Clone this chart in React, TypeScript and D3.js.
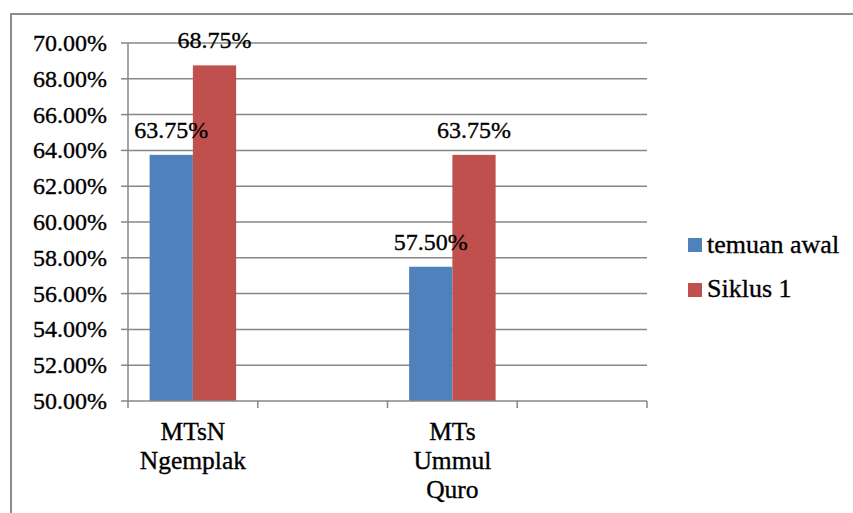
import React from "react";
import * as d3 from "d3";

const categories = ["MTsN\nNgemplak", "", "MTs\nUmmul\nQuro", ""];
const seriesNames = ["temuan awal", "Siklus 1"];
const temuanAwal = [63.75, null, 57.5, null];
const siklus1 = [68.75, null, 63.75, null];
const yTicks = [50, 52, 54, 56, 58, 60, 62, 64, 66, 68, 70];
const colors = ["#4F81BD", "#C0504D"];

export default function App() {
  const W = 853, H = 513;
  const left = 128, right = 647, top = 43, bottom = 401;
  const x = d3.scaleBand().domain(categories.map((_, i) => String(i))).range([left, right]).paddingInner(0).paddingOuter(0);
  const y = d3.scaleLinear().domain([50, 70]).range([bottom, top]);
  const bw = x.bandwidth();
  const barW = bw / 3;
  const gap = (bw - 2 * barW) / 2;
  const series = [temuanAwal, siklus1];
  const font = "'Liberation Serif', 'Times New Roman', serif";
  const grid = "#878787";
  const thick = { stroke: "#000", strokeWidth: 0.35 };
  return (
    <svg width={W} height={H} style={{ position: "absolute", left: 0, top: 0, background: "#fff" }}>
      <rect x={11} y={14} width={W + 10} height={H + 10} fill="#fff" stroke="#8c8c8c" strokeWidth={2} />
      {yTicks.map((t) => (
        <g key={t}>
          {t !== 50 && <line x1={left} x2={right} y1={y(t)} y2={y(t)} stroke={grid} strokeWidth={1.5} />}
          <line x1={left - 7} x2={left} y1={y(t)} y2={y(t)} stroke={grid} strokeWidth={1.5} />
          <text x={107} y={y(t)} dy="0.33em" textAnchor="end" fontFamily={font} fontSize={24} fill="#000" {...thick}>
            {t.toFixed(2) + "%"}
          </text>
        </g>
      ))}
      {series.map((s, si) =>
        s.map((v, ci) =>
          v == null ? null : (
            <rect key={si + "-" + ci} x={(x(String(ci)) as number) + gap + si * barW} y={y(v)} width={barW} height={bottom - y(v)} fill={colors[si]} />
          )
        )
      )}
      <line x1={left} x2={left} y1={top} y2={bottom} stroke={grid} strokeWidth={1.5} />
      <line x1={left} x2={right} y1={bottom} y2={bottom} stroke={grid} strokeWidth={1.5} />
      {d3.range(categories.length + 1).map((i) => (
        <line key={i} x1={left + i * bw} x2={left + i * bw} y1={bottom} y2={bottom + 7} stroke={grid} strokeWidth={1.5} />
      ))}
      {series.map((s, si) =>
        s.map((v, ci) =>
          v == null ? null : (
            <text key={"l" + si + "-" + ci} x={(x(String(ci)) as number) + gap + si * barW + barW / 2} y={y(v) - 17} textAnchor="middle" fontFamily={font} fontSize={24} fill="#000" {...thick}>
              {v.toFixed(2) + "%"}
            </text>
          )
        )
      )}
      {categories.map((c, ci) =>
        c.split("\n").map((line, li) => (
          <text key={ci + "-" + li} x={(x(String(ci)) as number) + bw / 2} y={440 + li * 29} textAnchor="middle" fontFamily={font} fontSize={25.5} fill="#000" {...thick}>
            {line}
          </text>
        ))
      )}
      {seriesNames.map((n, i) => (
        <g key={n}>
          <rect x={688} y={238 + i * 45} width={14} height={14} fill={colors[i]} />
          <text x={707} y={253 + i * 44} fontFamily={font} fontSize={26} fill="#000" {...thick}>{n}</text>
        </g>
      ))}
    </svg>
  );
}
